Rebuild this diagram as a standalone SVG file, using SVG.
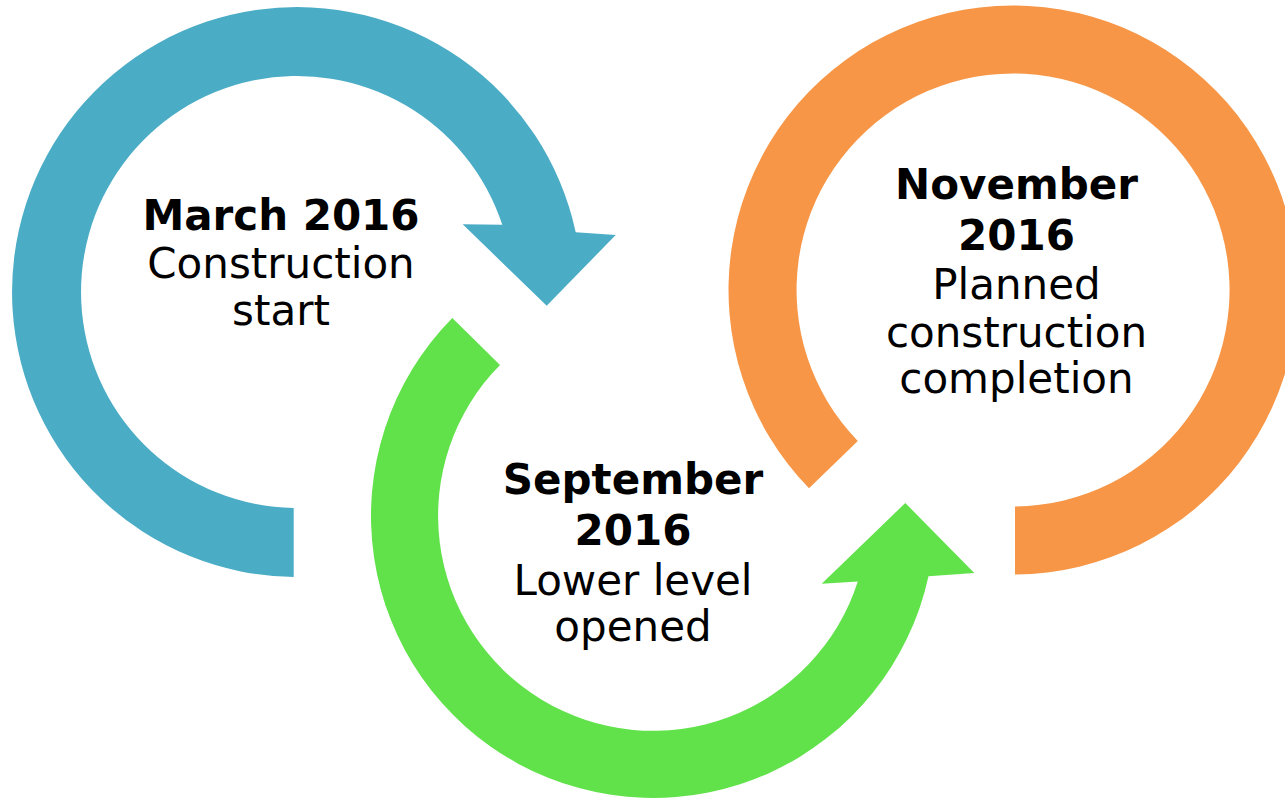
<svg xmlns="http://www.w3.org/2000/svg" width="1285" height="799" viewBox="0 0 1285 799">
  <style>
    .t { font-family: "DejaVu Sans", "Liberation Sans", sans-serif; font-size: 42px; fill: #000000; text-anchor: middle; }
    .b { font-weight: bold; }
    .blue { fill: #4BACC6; }
    .green { fill: #61E24A; }
    .orange { fill: #F79646; }
  </style>
  <rect x="0" y="0" width="1285" height="799" fill="#FFFFFF"/>
  <g id="connectors">
    <path id="arrow-blue" class="blue" d="M293.7,577 A285,285 0 1 1 575.7,232.2 L615.7,235 L546.7,305.7 L462.7,224.3 L502.3,224.8 A216,216 0 1 0 293.7,508 Z"/>
    <path id="arrow-green" class="green" d="M452.3,317.9 A282,282 0 1 0 928.5,576.2 L974.3,573 L905.3,503 L821.7,583.7 L857.8,581.6 A215,215 0 1 1 500,364.9 Z"/>
    <path id="arc-orange" class="orange" d="M809,488.3 A284.5,284.5 0 1 1 1015,574.5 L1015,506.5 A216.5,216.5 0 1 0 857.8,440.9 Z"/>
  </g>
  <g id="node-march">
    <text class="t b" x="281" y="230">March 2016</text>
    <text class="t" x="281" y="278">Construction</text>
    <text class="t" x="281" y="325">start</text>
  </g>
  <g id="node-september">
    <text class="t b" x="633" y="494">September</text>
    <text class="t b" x="633" y="545">2016</text>
    <text class="t" x="633" y="595">Lower level</text>
    <text class="t" x="633" y="641">opened</text>
  </g>
  <g id="node-november">
    <text class="t b" x="1016.5" y="198.5">November</text>
    <text class="t b" x="1016.5" y="250">2016</text>
    <text class="t" x="1016.5" y="299">Planned</text>
    <text class="t" x="1016.5" y="346.5">construction</text>
    <text class="t" x="1016.5" y="393">completion</text>
  </g>
</svg>
